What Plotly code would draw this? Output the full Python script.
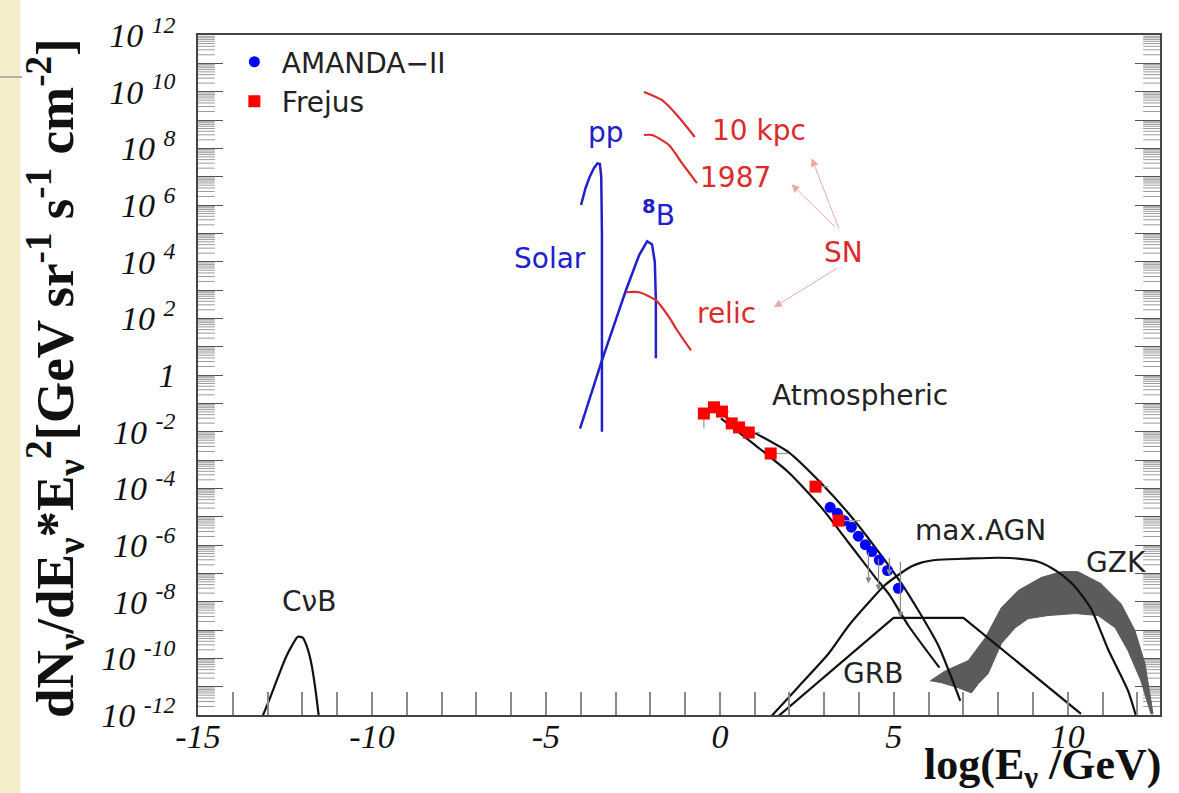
import plotly.graph_objects as go

# ---------------- data: x = log10(E/GeV), y = log10(flux) ----------------
cnb_x = [-13.14, -12.94, -12.71, -12.48, -12.30, -12.13, -11.99, -11.85, -11.73, -11.62, -11.53]
cnb_y = [-12.03, -11.43, -10.69, -9.98, -9.55, -9.24, -9.27, -9.66, -10.26, -11.14, -12.03]

pp_x = [-3.99, -3.86, -3.74, -3.62, -3.52, -3.45, -3.41, -3.39, -3.39]
pp_y = [6.0, 6.6, 7.0, 7.3, 7.47, 7.45, 7.0, 5.0, -2.0]

b8_x = [-4.02, -3.39, -2.70, -2.32, -2.09, -1.95, -1.87, -1.84, -1.84]
b8_y = [-1.89, 0.52, 2.99, 4.23, 4.72, 4.61, 3.98, 2.64, 0.59]

relic_x = [-2.70, -2.32, -1.84, -1.46, -1.23, -0.83]
relic_y = [2.92, 2.92, 2.64, 2.04, 1.58, 0.87]

sn10_x = [-2.18, -1.66, -1.18, -0.72]
sn10_y = [9.99, 9.70, 9.10, 8.40]

sn87_x = [-2.18, -1.95, -1.46, -1.09, -0.66]
sn87_y = [8.47, 8.47, 8.11, 7.48, 6.77]

atm_hi_x = [0.03, 1.03, 1.98, 2.92, 3.70, 4.47, 5.22, 5.71, 6.28, 6.91]
atm_hi_y = [-1.39, -2.06, -2.73, -3.83, -4.89, -6.09, -7.36, -8.32, -9.55, -11.5]
atm_lo_x = [0.03, 1.03, 1.98, 2.92, 3.70, 4.47, 4.85, 5.42, 6.31]
atm_lo_y = [-1.53, -2.49, -3.44, -4.68, -5.92, -7.15, -7.72, -8.85, -10.33]

frejus_x = [-0.46, -0.17, 0.06, 0.34, 0.55, 0.83, 1.46, 2.75, 3.41]
frejus_y = [-1.36, -1.14, -1.29, -1.71, -1.85, -2.03, -2.77, -3.94, -5.14]
frejus_xerr = [0.0, 0.0, 0.2, 0.0, 0.0, 0.32, 0.52, 0.37, 0.63]   # plus side, in log10(E)
frejus_ydn = [0.53, 0.0, 0.0, 0.0, 0.0, 0.0, 0.0, 0.0, 0.0]       # minus side, in decades

amanda_x = [3.17, 3.38, 3.57, 3.78, 3.98, 4.18, 4.37, 4.58, 4.82, 5.13]
amanda_y = [-4.67, -4.88, -5.14, -5.37, -5.69, -5.99, -6.23, -6.53, -6.90, -7.53]

limit_x = [4.27, 4.56, 4.87, 5.19]
limit_top = [-6.2, -6.44, -6.41, -6.55]
limit_bot = [-7.36, -7.61, -7.08, -8.57]

agn_x = [1.49, 2.26, 3.12, 3.70, 4.27, 4.73, 5.22, 5.50, 5.79, 6.28, 7.14, 8.00, 8.57, 9.15,
         9.52, 9.86, 10.21, 10.67, 11.15, 11.73, 11.96]
agn_y = [-12.03, -11.0, -9.84, -8.85, -8.04, -7.43, -6.98, -6.76, -6.62, -6.52, -6.48, -6.45,
         -6.48, -6.59, -6.80, -7.08, -7.47, -8.25, -9.66, -11.14, -12.03]

grb_x = [1.69, 4.99, 7.00, 10.38]
grb_y = [-12.03, -8.57, -8.57, -11.96]

gzk_up_x = [6.05, 6.48, 7.14, 7.63, 8.09, 8.57, 9.23, 9.81, 10.29, 10.95, 11.53, 11.93, 12.22, 12.45]
gzk_up_y = [-10.79, -10.44, -10.08, -9.27, -8.21, -7.61, -7.15, -6.94, -6.94, -7.36, -8.07, -9.02, -10.19, -11.96]
gzk_lo_x = [12.39, 12.10, 11.73, 11.36, 10.87, 10.21, 9.43, 8.86, 8.49, 8.09, 7.71, 7.43, 7.23, 6.85, 6.37, 6.05]
gzk_lo_y = [-11.96, -10.79, -9.73, -8.92, -8.49, -8.42, -8.49, -8.60, -8.92, -9.48, -10.54, -10.90, -11.22, -11.04, -10.86, -10.79]

y_decades = list(range(-12, 13))
x_ticks = list(range(-15, 13))
X_RANGE = [-15, 12.65]

BLUE = "#2020cc"
RED = "#dd2a2a"
BLACK = "#111111"
PINK = "#e9a9a9"

fig = go.Figure()


def pw(vals):
    return [10 ** v for v in vals]


# minor ticks of the log axis (2..9 x 10^k) on both frame sides, as clipped line markers
minor_vals = [m * 10.0 ** k for k in range(-12, 12) for m in range(2, 10)]
for xe in X_RANGE:
    fig.add_trace(go.Scatter(x=[xe] * len(minor_vals), y=minor_vals, mode="markers",
                             marker=dict(symbol="line-ew", size=24,
                                         line=dict(color="#9a9a9a", width=1)),
                             cliponaxis=True, showlegend=False, hoverinfo="skip"))

# GZK band
fig.add_trace(go.Scatter(x=gzk_up_x + gzk_lo_x, y=pw(gzk_up_y + gzk_lo_y), mode="lines",
                         fill="toself", fillcolor="#5b5b5b", line=dict(color="#5b5b5b", width=1),
                         showlegend=False, hoverinfo="skip"))


def add_line(x, ly, color, width=2.2, shape="spline"):
    fig.add_trace(go.Scatter(x=x, y=pw(ly), mode="lines",
                             line=dict(color=color, width=width, shape=shape, smoothing=0.6),
                             showlegend=False, hoverinfo="skip"))


add_line(cnb_x, cnb_y, BLACK)
add_line(pp_x, pp_y, BLUE, 2.5, "linear")
add_line(b8_x, b8_y, BLUE, 2.5, "linear")
add_line(relic_x, relic_y, RED)
add_line(sn10_x, sn10_y, RED)
add_line(sn87_x, sn87_y, RED)
add_line(atm_hi_x, atm_hi_y, BLACK)
add_line(atm_lo_x, atm_lo_y, BLACK)
add_line(agn_x, agn_y, BLACK)
add_line(grb_x, grb_y, BLACK, 2.2, "linear")

fig.add_trace(go.Scatter(x=amanda_x, y=pw(amanda_y), mode="markers", name="AMANDA\u2212II",
                         marker=dict(symbol="circle", color="#0000ff", size=11, line=dict(width=0))))
fig.add_trace(go.Scatter(
    x=frejus_x, y=pw(frejus_y), mode="markers", name="Frejus",
    marker=dict(symbol="square", color="#ff0000", size=12, line=dict(width=0)),
    error_x=dict(type="data", symmetric=False, array=frejus_xerr, arrayminus=[0] * len(frejus_x),
                 color="#9a9a9a", thickness=1.3, width=0),
    error_y=dict(type="data", symmetric=False, array=[0] * len(frejus_x),
                 arrayminus=[10 ** y - 10 ** (y - d) for y, d in zip(frejus_y, frejus_ydn)],
                 color="#9a9a9a", thickness=1.3, width=0)))

annotations = []
# upper limit arrows
for xv, yt, yb in zip(limit_x, limit_top, limit_bot):
    annotations.append(dict(x=xv, y=yb, ax=xv, ay=yt, xref="x", yref="y", axref="x", ayref="y",
                            text="", showarrow=True, arrowhead=2, arrowsize=1, arrowwidth=1.2,
                            arrowcolor="#888888"))

# SN arrows
sn_arrows = [((3.44, 5.11), (2.64, 7.65)), ((3.35, 5.18), (2.06, 6.73)), ((3.41, 3.80), (1.55, 2.39))]
for (tx, ty), (hx, hy) in sn_arrows:
    annotations.append(dict(x=hx, y=hy, ax=tx, ay=ty, xref="x", yref="y", axref="x", ayref="y",
                            text="", showarrow=True, arrowhead=2, arrowsize=1.6, arrowwidth=1,
                            arrowcolor=PINK))

LABEL_FONT = "DejaVu Sans"
labels = [
    ("Solar", -4.88, 4.12, BLUE),
    ("pp", -3.27, 8.57, BLUE),
    ("<sup><b>8</b></sup>B", -1.75, 5.71, BLUE),
    ("10 kpc", 1.12, 8.64, RED),
    ("1987", 0.46, 6.98, RED),
    ("SN", 3.55, 4.33, RED),
    ("relic", 0.20, 2.18, RED),
    ("Atmospheric", 4.04, -0.72, "#222222"),
    ("max.AGN", 7.48, -5.49, "#222222"),
    ("GZK", 11.38, -6.62, "#222222"),
    ("GRB", 4.39, -10.54, "#222222"),
    ("C\u03bdB", -11.82, -8.0, "#222222"),
]
for t, xv, yv, c in labels:
    annotations.append(dict(x=xv, y=yv, xref="x", yref="y", text=t, showarrow=False,
                            xanchor="center", yanchor="middle",
                            font=dict(family=LABEL_FONT, size=28, color=c)))

# axis titles
annotations.append(dict(x=(1042 - 198) / 962, y=(715 - 767) / 680, xref="paper", yref="paper",
                        xanchor="center", yanchor="middle",
                        text="<b>log(E<sub>\u03bd</sub> /GeV)</b>", showarrow=False,
                        font=dict(family="Liberation Serif", size=44, color="#111111")))
annotations.append(dict(x=(55 - 198) / 962, y=(715 - 378) / 680, xref="paper", yref="paper",
                        xanchor="center", yanchor="middle", textangle=-90,
                        text="<b>dN<sub>\u03bd</sub>/dE<sub>\u03bd</sub>*E<sub>\u03bd</sub><sup>2</sup>"
                             "[GeV sr<sup>-1</sup> s<sup>-1</sup> cm<sup>-2</sup>]</b>",
                        showarrow=False,
                        font=dict(family="Liberation Serif", size=53, color="#111111")))

shapes = [
    dict(type="rect", xref="paper", yref="paper", x0=-198 / 962, x1=(20 - 198) / 962,
         y0=(715 - 793) / 680, y1=715 / 680, fillcolor="#f6edca", line=dict(width=0), layer="below"),
    dict(type="line", xref="paper", yref="paper", x0=-198 / 962, x1=(22 - 198) / 962,
         y0=(715 - 77) / 680, y1=(715 - 77) / 680, line=dict(color="#b8b0a0", width=2)),
]

y_ticktext = []
for k in y_decades:
    if k % 2:
        y_ticktext.append("")
    elif k == 0:
        y_ticktext.append("1")
    else:
        y_ticktext.append("10 <sup>%d</sup>" % k)

TICKFONT = dict(family="Liberation Serif", size=34, style="italic", color="#111111")

fig.update_layout(
    width=1179, height=793,
    margin=dict(l=198, r=19, t=35, b=78),
    paper_bgcolor="white", plot_bgcolor="white",
    annotations=annotations, shapes=shapes,
    showlegend=True,
    legend=dict(x=0.03, y=0.997, xanchor="left", yanchor="top", bgcolor="rgba(0,0,0,0)",
                itemwidth=45,
                font=dict(family=LABEL_FONT, size=28, color="#222222"), tracegroupgap=0),
    xaxis=dict(range=X_RANGE, tickmode="array", tickvals=x_ticks,
               ticktext=[str(v) if v % 5 == 0 else "" for v in x_ticks],
               ticks="inside", ticklen=23, tickwidth=1.5, tickcolor="#8a8a8a",
               showline=True, linecolor="#444444", linewidth=1.5, mirror=True,
               showgrid=False, zeroline=False, tickfont=TICKFONT, ticklabelstandoff=-10),
    yaxis=dict(type="log", range=[-12, 12], tickmode="array", tickvals=[10 ** k for k in y_decades],
               ticktext=y_ticktext, ticks="inside", ticklen=25, tickwidth=1.3, tickcolor="#555555",
               showline=True, linecolor="#444444", linewidth=1.5, mirror="ticks",
               showgrid=False, zeroline=False, tickfont=TICKFONT, ticklabelstandoff=14),
)

fig.write_html("out.html")
